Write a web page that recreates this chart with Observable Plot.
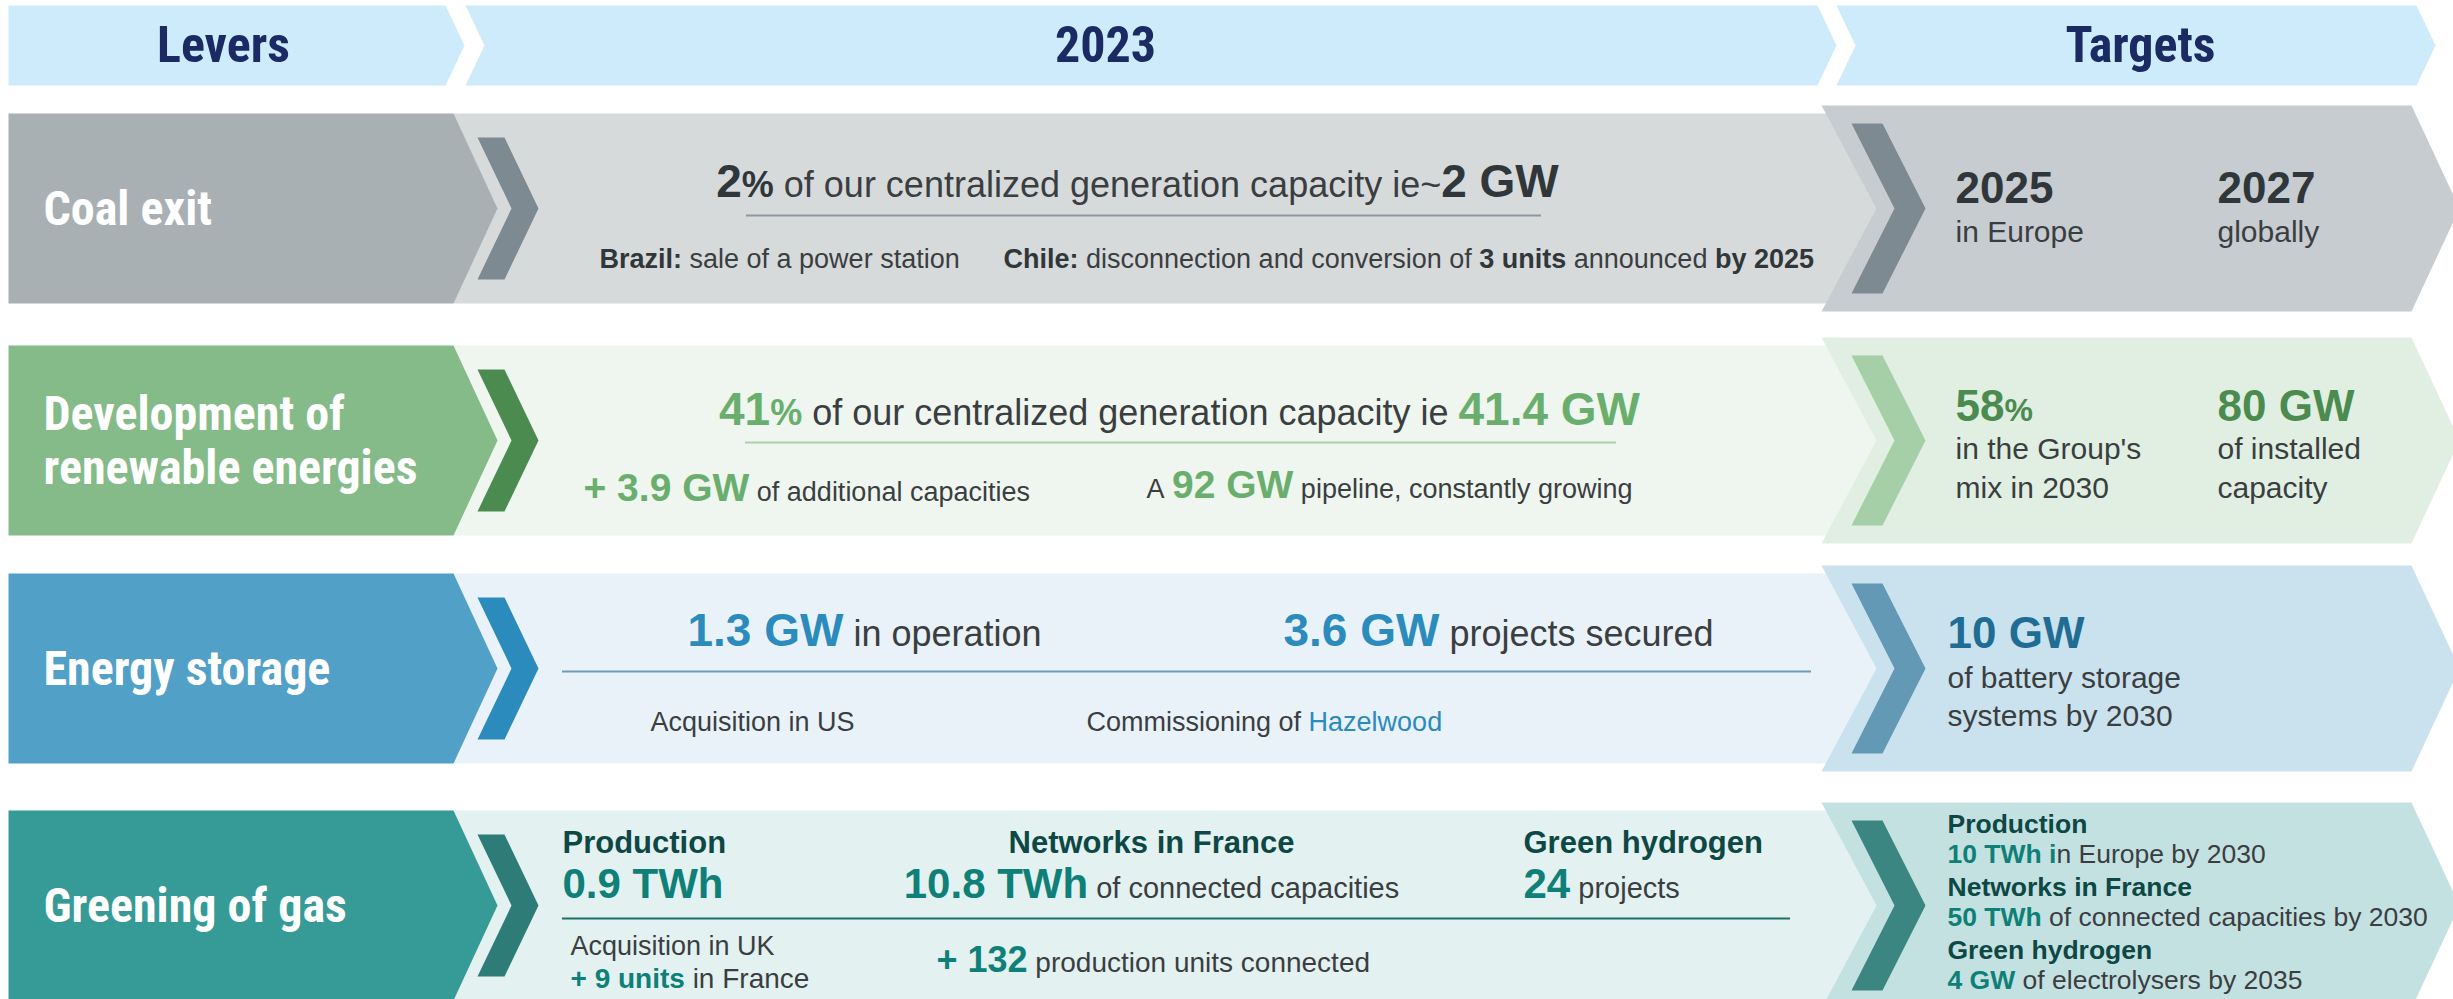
<!DOCTYPE html>
<html>
<head>
<meta charset="utf-8">
<script src="https://cdn.jsdelivr.net/npm/d3@7"></script>
<script src="https://cdn.jsdelivr.net/npm/@observablehq/plot@0.6"></script>
<style>
html, body { margin: 0; padding: 0; background: #fff; overflow: hidden; }
#chart svg { display: block; }
</style>
</head>
<body>
<div id="chart"></div>
<script>
// ---------------- DATA ----------------
const headers = ["Levers", "2023", "Targets"];
const levers = ["Coal exit", "Development of\nrenewable energies", "Energy storage", "Greening of gas"];
// *...* marks the highlighted figures
const highlights2023 = [
  ["*2%* of our centralized generation capacity ie~*2 GW*"],
  ["*41%* of our centralized generation capacity ie *41.4 GW*"],
  ["*1.3 GW* in operation", "*3.6 GW* projects secured"]
];
const notes2023 = [
  ["*Brazil:* sale of a power station", "*Chile:* disconnection and conversion of *3 units* announced *by 2025*"],
  ["*+ 3.9 GW* of additional capacities", "A *92 GW* pipeline, constantly growing"],
  ["Acquisition in US", "Commissioning of *Hazelwood*"],
  ["Acquisition in UK\n*+ 9 units* in France", "*+ 132* production units connected"]
];
const gasActivities = ["Production", "Networks in France", "Green hydrogen"];
const gasResults = ["*0.9 TWh*", "*10.8 TWh* of connected capacities", "*24* projects"];
const targets = [
  [["2025", "in Europe"], ["2027", "globally"]],
  [["58%", "in the Group's\nmix in 2030"], ["80 GW", "of installed\ncapacity"]],
  [["10 GW", "of battery storage\nsystems by 2030"]]
];
const gasTargets = [
  ["Production", "*10 TWh i*n Europe by 2030"],
  ["Networks in France", "*50 TWh* of connected capacities by 2030"],
  ["Green hydrogen", "*4 GW* of electrolysers by 2035"]
];

// ---------------- STYLE ----------------
const themes = [
  {left: "#a8b0b4", band: "#d7dadb", tbox: "#c6ccd0", chev: "#7e8a91", tchev: "#7e8a91", line: "#8d979d", accent: "#30373a", taccent: "#30373a", head: "#30373a"},
  {left: "#84bb88", band: "#eef6ef", tbox: "#e0efe1", chev: "#4b8b50", tchev: "#a4cfa7", line: "#a9d2ab", accent: "#6aae6e", taccent: "#4b8b50", head: "#30373a"},
  {left: "#51a0c7", band: "#e9f2f8", tbox: "#cae2ee", chev: "#2b8bbd", tchev: "#6399b4", line: "#6c9cb6", accent: "#2b8bbd", taccent: "#1f6c94", head: "#30373a"},
  {left: "#369a96", band: "#e3f1f1", tbox: "#c4e1e1", chev: "#2e7c78", tchev: "#3c8681", line: "#1f6f6b", accent: "#0e8078", taccent: "#0e8078", head: "#0d4845"}
];
const headerFill = "#cdebfa", navy = "#1b2a62", ink = "#30373a", textGray = "#3b3e41";

const SANS = '"Liberation Sans", Arial, Helvetica, sans-serif';
function fontAvailable(name) {
  const c = document.createElement("canvas").getContext("2d");
  const s = "Levers renewable WWmmii 2023";
  for (const base of ["monospace", "serif"]) {
    c.font = `bold 50px ${base}`; const a = c.measureText(s).width;
    c.font = `bold 50px "${name}", ${base}`; const b = c.measureText(s).width;
    if (Math.abs(a - b) > 0.5) return true;
  }
  return false;
}
const narrowName = ["Liberation Sans Narrow", "Arial Narrow", "Roboto Condensed", "Noto Sans Condensed", "DejaVu Sans Condensed"].find(fontAvailable);
const NARROW = narrowName ? `"${narrowName}", ${SANS}` : SANS;
const narrowScale = narrowName ? 1 : 0.82;

const roles = {
  hdr:    {size: 50, weight: 700, narrow: true, color: () => navy},
  lever:  {size: 48, weight: 700, narrow: true, color: () => "#ffffff"},
  big:    {size: 46, weight: 700, color: t => t.accent},
  pct:    {size: 36, weight: 700, color: t => t.accent},
  main:   {size: 36, weight: 400, color: () => textGray},
  mid:    {size: 39, weight: 700, color: t => t.accent},
  note:   {size: 27, weight: 400, color: () => textGray},
  noteB:  {size: 27, weight: 700, color: () => ink},
  noteA:  {size: 27, weight: 400, color: t => t.accent},
  tnum:   {size: 44, weight: 700, color: t => t.taccent},
  tpct:   {size: 32, weight: 700, color: t => t.taccent},
  ttext:  {size: 30, weight: 400, color: () => textGray},
  ghead:  {size: 31, weight: 700, color: t => t.head},
  gnum:   {size: 42, weight: 700, color: t => t.accent},
  gtext:  {size: 29, weight: 400, color: () => textGray},
  gnote:  {size: 27, weight: 400, color: () => textGray},
  gnoteB: {size: 28, weight: 700, color: t => t.accent},
  gplus:  {size: 36, weight: 700, color: t => t.accent},
  gnote2: {size: 28, weight: 400, color: () => textGray},
  tgh:    {size: 26.5, weight: 700, color: t => t.head},
  tgn:    {size: 26.5, weight: 700, color: t => t.accent},
  tgt:    {size: 26.5, weight: 400, color: () => textGray}
};

// ---------------- LAYOUT ----------------
const W = 2453, H = 999;
const head = {y0: 5, y1: 85, slant: 19, segs: [[8, 445], [465, 1817], [1836, 2416]], textY: 61, centers: [223, 1105, 2140]};
const rowTop = [113, 345, 573, 810], rowH = 190;
const leftBox = {x0: 8, x1: 453, point: 44, textX: 43};
const band = {x0: 453, x1: 1880};
const chev = {x: 477, w: 27, slant: 34, inset: 24};
const tbox = {x0: 1821, x1: 2411, pad: 8, notch: 55, point: 48};
const tchev = {x: 1851, w: 31, slant: 43, inset: 18};

// ---------------- TEXT HELPERS ----------------
const ctx = document.createElement("canvas").getContext("2d");
function styleOf(role, theme) {
  const r = roles[role];
  return {size: r.size, weight: r.weight, family: r.narrow ? NARROW : SANS, scale: r.narrow ? narrowScale : 1, color: r.color(theme || {})};
}
function measure(t, st) {
  ctx.font = `${st.weight} ${st.size}px ${st.family}`;
  return ctx.measureText(t).width * st.scale;
}
const texts = [];
function run(str, x, y, {em, plain, pct, theme, anchor = "start"}) {
  const parts = str.split("*").map((t, i) => ({t, role: i % 2 ? em : plain})).filter(d => d.t);
  const segs = [];
  for (const p of parts) {
    if (pct && p.role === em && p.t.endsWith("%")) {
      segs.push({t: p.t.slice(0, -1), role: em});
      segs.push({t: "%", role: pct});
    } else segs.push(p);
  }
  const styled = segs.map(s => ({...s, st: styleOf(s.role, theme)}));
  const widths = styled.map(s => measure(s.t, s.st));
  let cx = anchor === "middle" ? x - d3.sum(widths) / 2 : x;
  styled.forEach((s, i) => {
    const lead = s.t.length - s.t.trimStart().length;
    const leadW = lead ? measure(s.t.slice(0, lead), s.st) : 0;
    const txt = s.t.trim();
    if (txt) texts.push({x: cx + leadW, y, text: txt, ...s.st});
    cx += widths[i];
  });
}
function block(str, x, y, gap, opts) {
  str.split("\n").forEach((line, k) => run(line, x, y + k * gap, opts));
}

// ---------------- SHAPES ----------------
const polys = [];
function poly(pts, fill) { polys.push({pts, fill}); }
const seps = [];

// header
head.segs.forEach(([x0, x1], i) => {
  const ym = (head.y0 + head.y1) / 2, s = head.slant;
  const pts = [[x0, head.y0], [x1, head.y0], [x1 + s, ym], [x1, head.y1], [x0, head.y1]];
  if (i > 0) pts.push([x0 + s, ym]);
  poly(pts, headerFill);
  run(headers[i], head.centers[i], head.textY, {em: "hdr", plain: "hdr", anchor: "middle"});
});

rowTop.forEach((r, i) => {
  const th = themes[i], b = r + rowH, m = r + rowH / 2;
  poly([[band.x0, r], [band.x1, r], [band.x1, b], [band.x0, b]], th.band);
  poly([[leftBox.x0, r], [leftBox.x1, r], [leftBox.x1 + leftBox.point, m], [leftBox.x1, b], [leftBox.x0, b]], th.left);
  const ct = r + chev.inset, cb = b - chev.inset;
  poly([[chev.x, ct], [chev.x + chev.w, ct], [chev.x + chev.w + chev.slant, m], [chev.x + chev.w, cb], [chev.x, cb], [chev.x + chev.slant, m]], th.chev);
  const tt = r - tbox.pad, tb = b + tbox.pad;
  poly([[tbox.x0, tt], [tbox.x1, tt], [tbox.x1 + tbox.point, m], [tbox.x1, tb], [tbox.x0, tb], [tbox.x0 + tbox.notch, m]], th.tbox);
  const kt = tt + tchev.inset, kb = tb - tchev.inset;
  poly([[tchev.x, kt], [tchev.x + tchev.w, kt], [tchev.x + tchev.w + tchev.slant, m], [tchev.x + tchev.w, kb], [tchev.x, kb], [tchev.x + tchev.slant, m]], th.tchev);

  // lever label
  const lines = levers[i].split("\n");
  lines.forEach((ln, k) => run(ln, leftBox.textX, r + 111 - (lines.length - 1) * 27 + k * 54, {em: "lever", plain: "lever"}));
});

// Row 1: coal
{
  const r = rowTop[0], th = themes[0];
  run(highlights2023[0][0], 1137, r + 83, {em: "big", plain: "main", pct: "pct", theme: th, anchor: "middle"});
  seps.push({y: r + 102, x1: 746, x2: 1541, stroke: th.line});
  run(notes2023[0][0], 599, r + 154, {em: "noteB", plain: "note", theme: th});
  run(notes2023[0][1], 1003, r + 154, {em: "noteB", plain: "note", theme: th});
  [1955, 2217].forEach((x, j) => {
    run(targets[0][j][0], x, r + 89, {em: "tnum", plain: "tnum", theme: th});
    block(targets[0][j][1], x, r + 128, 39, {em: "ttext", plain: "ttext", theme: th});
  });
}
// Row 2: renewables
{
  const r = rowTop[1], th = themes[1];
  run(highlights2023[1][0], 1179, r + 79, {em: "big", plain: "main", pct: "pct", theme: th, anchor: "middle"});
  seps.push({y: r + 97, x1: 745, x2: 1616, stroke: th.line});
  run(notes2023[1][0], 583, r + 155, {em: "mid", plain: "note", theme: th});
  run(notes2023[1][1], 1146, r + 152, {em: "mid", plain: "note", theme: th});
  [1955, 2217].forEach((x, j) => {
    const [num, txt] = targets[1][j];
    run(num.replace(/^(.*?)(%?)$/, (a, n, p) => p ? `*${n}%*` : a), x, r + 75, {em: "tnum", plain: "tnum", pct: "tpct", theme: th});
    block(txt, x, r + 113, 39, {em: "ttext", plain: "ttext", theme: th});
  });
}
// Row 3: storage
{
  const r = rowTop[2], th = themes[2];
  run(highlights2023[2][0], 687, r + 72, {em: "big", plain: "main", theme: th});
  run(highlights2023[2][1], 1283, r + 72, {em: "big", plain: "main", theme: th});
  seps.push({y: r + 98, x1: 562, x2: 1811, stroke: th.line});
  run(notes2023[2][0], 650, r + 157, {em: "noteA", plain: "note", theme: th});
  run(notes2023[2][1], 1086, r + 157, {em: "noteA", plain: "note", theme: th});
  run(targets[2][0][0], 1947, r + 74, {em: "tnum", plain: "tnum", theme: th});
  block(targets[2][0][1], 1947, r + 114, 38, {em: "ttext", plain: "ttext", theme: th});
}
// Row 4: gas
{
  const r = rowTop[3], th = themes[3];
  const cols = [{x: 562, anchor: "start"}, {x: 1151, anchor: "middle"}, {x: 1523, anchor: "start"}];
  cols.forEach((c, j) => {
    run(gasActivities[j], c.x, r + 42, {em: "ghead", plain: "ghead", theme: th, anchor: c.anchor});
    run(gasResults[j], c.x, r + 87, {em: "gnum", plain: "gtext", theme: th, anchor: c.anchor});
  });
  seps.push({y: r + 108, x1: 562, x2: 1790, stroke: th.line});
  const [l1, l2] = notes2023[3][0].split("\n");
  run(l1, 570, r + 144, {em: "gnoteB", plain: "gnote", theme: th});
  run(l2, 570, r + 177, {em: "gnoteB", plain: "gnote2", theme: th});
  run(notes2023[3][1], 936, r + 161, {em: "gplus", plain: "gnote2", theme: th});
  gasTargets.forEach(([h, v], j) => {
    run(h, 1947, r + 22 + j * 63, {em: "tgh", plain: "tgh", theme: th});
    run(v, 1947, r + 52 + j * 63, {em: "tgn", plain: "tgt", theme: th});
  });
}

// ---------------- PLOT ----------------
const polyMarks = polys.map(p => Plot.line(p.pts, {x: d => d[0], y: d => d[1], curve: "linear-closed", fill: p.fill, stroke: "none"}));
const groups = d3.groups(texts, d => `${d.family}|${d.weight}|${d.scale}`);
const textMarks = groups.map(([k, arr]) => Plot.text(arr, {
  x: "x", y: "y", text: "text", fontSize: "size", fill: "color",
  fontFamily: arr[0].family, fontWeight: arr[0].weight,
  textAnchor: "start", lineAnchor: "bottom",
  ariaLabel: arr[0].scale !== 1 ? "narrow-text" : "text"
}));

const chart = Plot.plot({
  width: W, height: H, margin: 0,
  x: {domain: [0, W], range: [0, W], axis: null},
  y: {domain: [0, H], range: [0, H], axis: null},
  color: {type: "identity"},
  style: {background: "#ffffff", overflow: "hidden"},
  marks: [
    ...polyMarks,
    Plot.ruleY(seps, {y: "y", x1: "x1", x2: "x2", stroke: "stroke", strokeWidth: 2}),
    ...textMarks
  ]
});

// fallback: horizontally condense when no narrow face is installed
if (narrowScale !== 1) {
  d3.select(chart).selectAll('g[aria-label="narrow-text"] text').each(function() {
    const tr = this.getAttribute("transform") || "";
    this.setAttribute("transform", `${tr} scale(${narrowScale},1)`);
  });
}
document.getElementById("chart").appendChild(chart);
</script>
</body>
</html>
